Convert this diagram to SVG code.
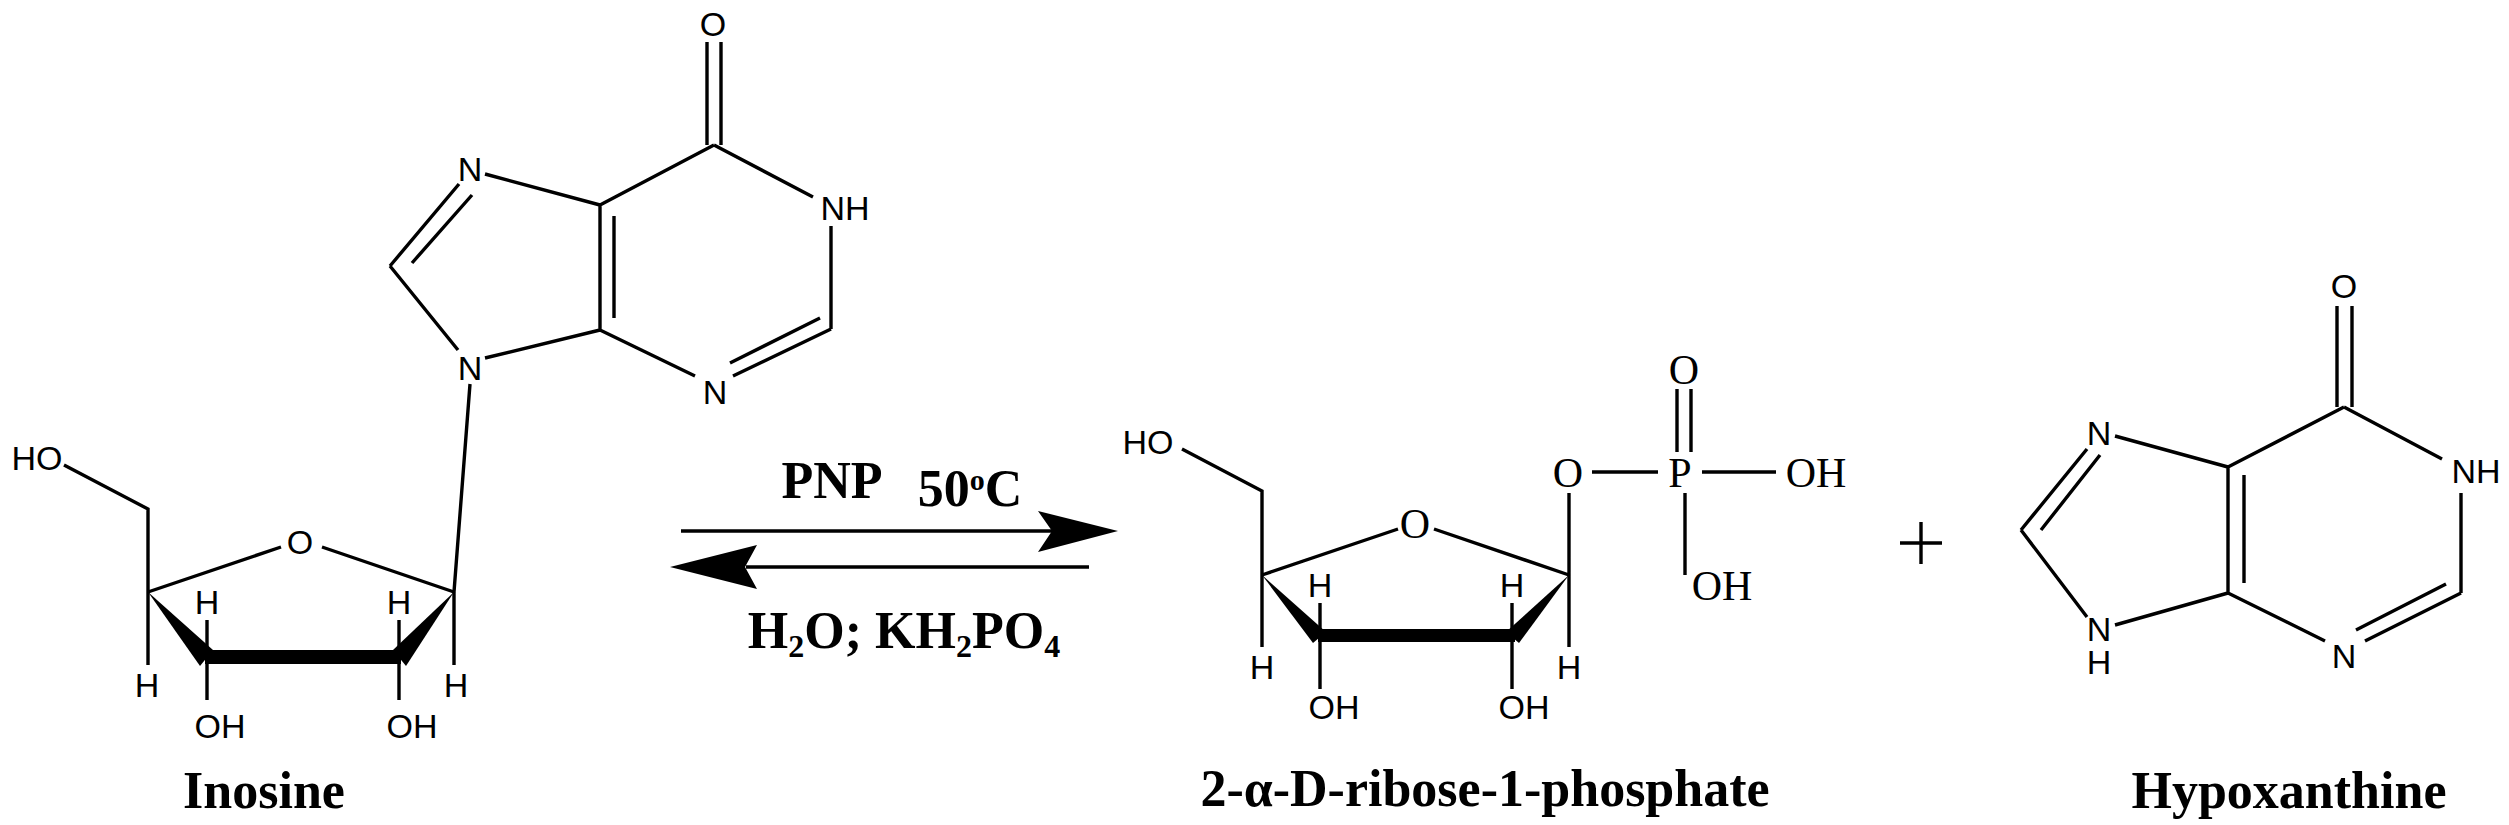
<svg xmlns="http://www.w3.org/2000/svg" width="2509" height="825" viewBox="0 0 2509 825">
<style>
.b{stroke:#000;stroke-width:3.4;fill:none;stroke-linecap:butt}
.a{font-family:"Liberation Sans",Arial,sans-serif;font-size:34px;fill:#000;text-anchor:middle}
.t{font-family:"Liberation Serif","Times New Roman",serif;font-size:42px;fill:#000;text-anchor:middle}
.L{font-family:"Liberation Serif","Times New Roman",serif;font-size:52px;font-weight:bold;fill:#000;text-anchor:middle}
.w{fill:#000}
</style>
<rect width="2509" height="825" fill="#fff"/>
<g id="inosine">
<path class="b" d="M707 42V145M721 42V145M714 145L813 197M831 226V329M831 329L733 376M730 363L820 318M695 376L600 330M600 205V330M614 216V318M600 205L714 145M485 174L600 205M459 184L390 266M472 195L412 263M390 266L458 350M485 358L600 330M470 384L454 592"/>
<text class="a" x="713" y="36">O</text>
<text class="a" x="845" y="220">NH</text>
<text class="a" x="715" y="404">N</text>
<text class="a" x="470" y="181">N</text>
<text class="a" x="470" y="380">N</text>
<path class="b" d="M64 465L148 509V592M148 592L281 547M322 547L454 592M148 592V665M454 592V665M207 620V655M399 620V655M207 660V700M399 660V700"/>
<polygon class="w" points="148,592 200,666 213,650"/>
<polygon class="w" points="454,592 406,666 393,650"/>
<rect class="w" x="205" y="650" width="196" height="14"/>
<text class="a" x="37" y="470">HO</text>
<text class="a" x="300" y="554">O</text>
<text class="a" x="207" y="614">H</text>
<text class="a" x="399" y="614">H</text>
<text class="a" x="147" y="697">H</text>
<text class="a" x="456" y="697">H</text>
<text class="a" x="220" y="738">OH</text>
<text class="a" x="412" y="738">OH</text>
<text class="L" x="264" y="808">Inosine</text>
</g>
<g id="conditions">
<path class="b" d="M681 531H1052M1089 567H746"/>
<polygon class="w" points="1118,531 1038,511 1052,531 1038,552"/>
<polygon class="w" points="670,567 757,545 745,567 757,589"/>
<text class="L" x="832" y="498" font-size="46">PNP</text>
<text class="L" x="970" y="506" font-size="46">50<tspan dy="-16" font-size="30">o</tspan><tspan dy="16">C</tspan></text>
<text class="L" x="904" y="648" font-size="46">H<tspan dy="9" font-size="32">2</tspan><tspan dy="-9">O; KH</tspan><tspan dy="9" font-size="32">2</tspan><tspan dy="-9">PO</tspan><tspan dy="9" font-size="32">4</tspan></text>
</g>
<g id="ribose-phosphate">
<path class="b" d="M1182 449L1262 491V575M1262 575L1398 529M1434 529L1569 575M1262 575V647M1569 575V647M1320 603V632M1512 603V632M1320 638V689M1512 638V689M1569 575V493M1592 472H1658M1702 472H1776M1677 389V452M1691 389V452M1685 493V575"/>
<polygon class="w" points="1262,575 1313,643 1326,632"/>
<polygon class="w" points="1569,575 1519,643 1506,632"/>
<rect class="w" x="1318" y="629" width="197" height="13"/>
<text class="a" x="1148" y="454" font-size="32">HO</text>
<text class="t" x="1415" y="538" font-size="32">O</text>
<text class="a" x="1320" y="597" font-size="32">H</text>
<text class="a" x="1512" y="597" font-size="32">H</text>
<text class="a" x="1262" y="679" font-size="32">H</text>
<text class="a" x="1569" y="679" font-size="32">H</text>
<text class="a" x="1334" y="719" font-size="32">OH</text>
<text class="a" x="1524" y="719" font-size="32">OH</text>
<text class="t" x="1568" y="487">O</text>
<text class="t" x="1680" y="487">P</text>
<text class="t" x="1816" y="487">OH</text>
<text class="t" x="1684" y="384">O</text>
<text class="t" x="1722" y="600" font-size="38">OH</text>
<text class="L" x="1485" y="806">2-α-D-ribose-1-phosphate</text>
</g>
<g id="plus">
<path class="b" d="M1900 543H1942M1921 522V564"/>
</g>
<g id="hypoxanthine">
<path class="b" d="M2337 306V407M2352 306V407M2344 407L2442 459M2461 493V593M2461 593L2365 641M2446 584L2356 630M2325 641L2228 593M2228 593V467M2244 475V583M2228 467L2344 407M2115 436L2228 467M2087 449L2021 530M2100 455L2041 530M2021 530L2087 617M2115 625L2228 593"/>
<text class="a" x="2344" y="298">O</text>
<text class="a" x="2476" y="483">NH</text>
<text class="a" x="2344" y="668">N</text>
<text class="a" x="2099" y="445">N</text>
<text class="a" x="2099" y="641">N</text>
<text class="a" x="2099" y="674">H</text>
<text class="L" x="2289" y="808">Hypoxanthine</text>
</g>
</svg>
